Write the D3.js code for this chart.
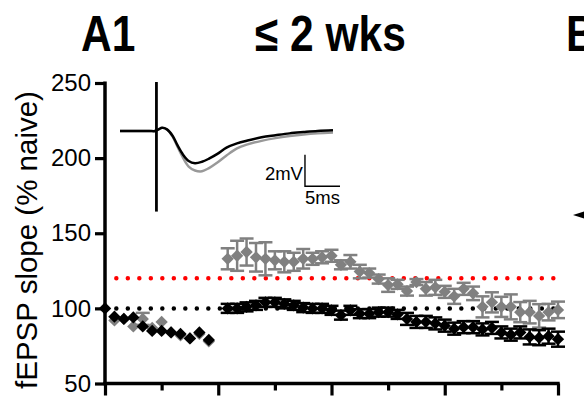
<!DOCTYPE html>
<html>
<head>
<meta charset="utf-8">
<script src="https://cdn.jsdelivr.net/npm/d3@7"></script>
<style>
  body { margin: 0; background: #fff; }
  svg { display: block; font-family: "Liberation Sans", Arial, sans-serif; }
</style>
</head>
<body>
<div id="chart"></div>
<script>
// sweep index (one point per sweep, 12 = tetanus gap)
const sweep = [0,1,2,3,4,5,6,7,8,9,10,11,12,13,14,15,16,17,18,19,20,21,22,23,24,
               25,26,27,28,29,30,31,32,33,34,35,36,37,38,39,40,41,42,43,44,45,46,47,48];

// grey series (mean, sem)
const greyMean = [100,92,93,88,93,87,91,84,82,80,83,78,null,
  133,135,137.5,134,133,132,131,131,133,133,134,135,129,131,124.5,123.5,119.5,115.5,116,111.5,
  117.5,113,114,111,108,113,110,101,104,101,101,97.5,97.5,95,97.5,99];
const greySem = [0,0,0,0,4,0,0,0,0,0,0,0,null,
  7,10,9,9.5,11,6,7,6,6.5,4,4,4,3,4.5,4.5,3,3,4.5,3,3,2,4.5,5,4,5,4,4.5,7,6.7,6.7,8.3,6.7,7.5,7.8,5.5,5.5];

// black series (mean, sem)
const blackMean = [100,94.5,93,94,88,85,85,84,83,80,84,79,null,
  100,100,101,102,104,104,103,102,100.5,100,100,98.7,95.5,98.7,96.5,96.5,97.5,97.5,96,93,91,91,
  90,88.5,86.5,87.5,87.5,86,87,84,82.5,84,81,80.5,81.5,79.5];
const blackSem = [0,0,0,0,0,0,0,0,0,0,0,0,null,
  3,3,3,3,3,3,3,3,3,3,3,3,3,3,3,3,3,3,3,4,4,4,4,4,4,4,4,4,4,4,4,4,5,5,5,5];

// reference levels
const baselineLevel = 100;
const thresholdLevel = 120;
const refStart = 1.2, refEnd = 47.6;

const yTicks = [50, 100, 150, 200, 250];
const xTicks = [0, 6, 12, 18, 24, 30, 36, 42, 48];

// inset fEPSP traces (ms, mV)
const traceTime  = [-5.2,-1,-0.2,0.3,0.8,1.5,2.3,3.0,3.8,4.6,5.5,6.5,7.5,8.7,10,11.5,13,15,17,19,21,23,25.2];
const traceBlack = [0,0,0,0.1,0.2,0.1,-0.3,-0.9,-1.5,-1.9,-2.04,-1.95,-1.75,-1.45,-1.05,-0.78,-0.6,-0.4,-0.27,-0.15,-0.07,0,0.04];
const traceGrey  = [0,0,0,0.1,0.2,0.1,-0.35,-1.0,-1.7,-2.25,-2.5,-2.55,-2.35,-2.0,-1.55,-1.1,-0.85,-0.62,-0.45,-0.32,-0.22,-0.15,-0.1];
const artifactTime = [0, 0];
const artifactV = [3.1, -5.1];
const barTime = [21.2, 26.2];   // 5 ms
const barV = [-1.5, -3.5];      // 2 mV

const W = 584, H = 398;
const svg = d3.select("#chart").append("svg").attr("width", W).attr("height", H);
svg.append("rect").attr("width", W).attr("height", H).attr("fill", "#fff");

const x = d3.scaleLinear().domain([0, 48]).range([105, 558]);
const y = d3.scaleLinear().domain([50, 250]).range([383.5, 83]);

// titles
const title = (txt, tx) => svg.append("text")
  .attr("transform", `translate(${tx},51) scale(0.85,1)`)
  .attr("font-size", 50).attr("font-weight", "bold").text(txt);
title("A1", 81);
title("≤ 2 wks", 255);
title("B", 566);

// arrow from neighbouring panel
svg.append("path").attr("d", "M573,215 L584,211.5 L584,218.5 Z").attr("fill", "#000");

// reference dotted lines
const refLine = (lvl, col) => svg.append("line")
  .attr("x1", x(refStart)).attr("x2", x(refEnd))
  .attr("y1", y(lvl)).attr("y2", y(lvl))
  .attr("stroke", col).attr("stroke-width", 4.5)
  .attr("stroke-linecap", "round").attr("stroke-dasharray", "0,11.5");
refLine(baselineLevel, "#000");
refLine(thresholdLevel, "#ff0000");

// series
const diamond = d3.symbol().type(d3.symbolSquare).size(76);
function drawSeries(mean, sem, col) {
  const pts = sweep.map((s, i) => ({ s, m: mean[i], e: sem[i] })).filter(d => d.m !== null);
  const g = svg.append("g");
  const eb = g.selectAll(".eb").data(pts.filter(d => d.e > 0)).enter().append("g")
    .attr("stroke", col).attr("stroke-width", 2.5);
  eb.append("line").attr("x1", d => x(d.s)).attr("x2", d => x(d.s))
    .attr("y1", d => y(d.m + d.e)).attr("y2", d => y(d.m - d.e));
  eb.append("line").attr("x1", d => x(d.s) - 7).attr("x2", d => x(d.s) + 7)
    .attr("y1", d => y(d.m + d.e)).attr("y2", d => y(d.m + d.e));
  eb.append("line").attr("x1", d => x(d.s) - 7).attr("x2", d => x(d.s) + 7)
    .attr("y1", d => y(d.m - d.e)).attr("y2", d => y(d.m - d.e));
  g.selectAll(".pt").data(pts).enter().append("path")
    .attr("d", diamond)
    .attr("transform", d => `translate(${x(d.s)},${y(d.m)}) rotate(45)`)
    .attr("fill", col);
}
drawSeries(greyMean, greySem, "#808080");
drawSeries(blackMean, blackSem, "#000");

// axes
const yAxis = svg.append("g").attr("transform", "translate(105,0)")
  .call(d3.axisLeft(y).tickValues(yTicks).tickSize(10).tickPadding(4));
const xAxis = svg.append("g").attr("transform", `translate(0,${y(50)})`)
  .call(d3.axisBottom(x).tickValues(xTicks).tickSize(12).tickFormat(""));
yAxis.select(".domain").remove();
xAxis.select(".domain").remove();
[yAxis, xAxis].forEach(a => a.selectAll(".tick line").attr("stroke-width", 3.2));
svg.append("line").attr("x1", 105).attr("x2", 105).attr("y1", y(250) - 1.5).attr("y2", y(50))
  .attr("stroke", "#000").attr("stroke-width", 3.5);
svg.append("line").attr("x1", 103.3).attr("x2", 559.7).attr("y1", y(50)).attr("y2", y(50))
  .attr("stroke", "#000").attr("stroke-width", 3.5);
xAxis.selectAll(".tick line").attr("y2", (d, i) => i % 2 ? 7 : 12);
yAxis.selectAll(".tick text").attr("font-size", 24).attr("font-family", "Liberation Sans, Arial").attr("fill", "#000");

svg.append("text")
  .attr("transform", "translate(37,240) rotate(-90)")
  .attr("text-anchor", "middle").attr("font-size", 29.5)
  .text("fEPSP slope (% naive)");

// inset traces
const xT = d3.scaleLinear().domain([-5.2, 25.2]).range([120, 333]);
const yT = d3.scaleLinear().domain([0, -2]).range([131, 162.6]);
const traceLine = d3.line().x(d => xT(d[0])).y(d => yT(d[1])).curve(d3.curveCatmullRom);
svg.append("path").datum(traceTime.map((t, i) => [t, traceGrey[i]])).attr("d", traceLine)
  .attr("fill", "none").attr("stroke", "#999").attr("stroke-width", 2.4);
svg.append("path").datum(traceTime.map((t, i) => [t, traceBlack[i]])).attr("d", traceLine)
  .attr("fill", "none").attr("stroke", "#000").attr("stroke-width", 2.5);
svg.append("path").datum(artifactTime.map((t, i) => [t, artifactV[i]]))
  .attr("d", d3.line().x(d => xT(d[0])).y(d => yT(d[1])))
  .attr("stroke", "#000").attr("stroke-width", 2.8);

// scale bar
svg.append("path")
  .attr("d", `M${xT(barTime[0])},${yT(barV[0])} L${xT(barTime[0])},${yT(barV[1])} L${xT(barTime[1])},${yT(barV[1])}`)
  .attr("fill", "none").attr("stroke", "#000").attr("stroke-width", 1.4);
svg.append("text").attr("x", xT(barTime[0]) - 2).attr("y", 180).attr("text-anchor", "end")
  .attr("font-size", 18.5).text("2mV");
svg.append("text").attr("x", xT(barTime[0])).attr("y", 204)
  .attr("font-size", 18.5).text("5ms");
</script>
</body>
</html>
